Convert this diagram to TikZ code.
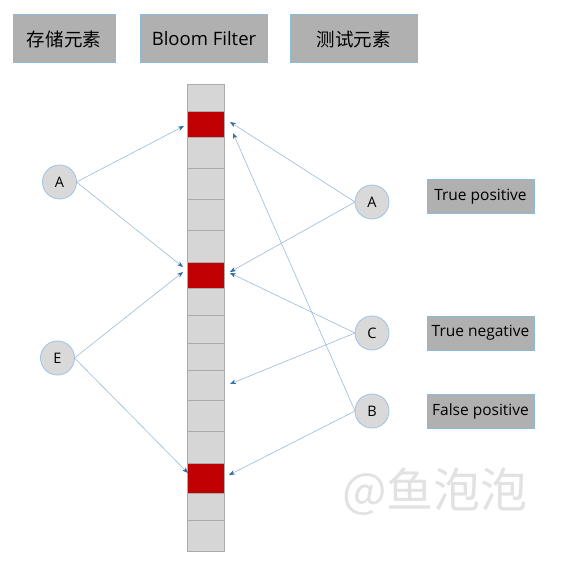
\documentclass[tikz,border=0pt]{standalone}
\usepackage{fontspec}
\setmainfont{Open Sans}
\newfontfamily\cjk{Noto Sans CJK SC}
\usetikzlibrary{arrows.meta}
\definecolor{boxgray}{HTML}{B0B0B0}
\definecolor{boxedge}{HTML}{8CBAD4}
\definecolor{cellgray}{HTML}{D6D6D6}
\definecolor{celledge}{HTML}{ABABAB}
\definecolor{bitred}{HTML}{C00000}
\definecolor{circfill}{HTML}{D9D9D9}
\definecolor{circedge}{HTML}{9DC3E6}
\definecolor{lineblue}{HTML}{9BBAD8}
\definecolor{tipblue}{HTML}{2A6AA8}
\definecolor{wmgray}{HTML}{E2E2E2}
\tikzset{
  hdr/.style={draw=boxedge, fill=boxgray, line width=1pt, minimum height=48pt, inner sep=0pt, outer sep=0pt, font=\fontsize{18.5}{20}\selectfont},
  lbl/.style={draw=boxedge, fill=boxgray, line width=1pt, minimum width=107pt, minimum height=34pt, inner sep=0pt, font=\fontsize{15.5}{17}\selectfont},
  elem/.style={circle, draw=circedge, fill=circfill, line width=0.8pt, minimum size=34pt, inner sep=0pt, outer sep=0pt, font=\fontsize{14.5}{16}\selectfont},
  bitcell/.style={draw=celledge, fill=cellgray, line width=0.8pt, minimum width=37pt, inner sep=0pt, outer sep=0pt},
  bitset/.style={bitcell, fill=bitred},
  link/.style={draw=lineblue, line width=0.6pt, -{Stealth[length=6pt,width=4.5pt,color=tipblue]}}
}
\begin{document}
\begin{tikzpicture}[x=1pt,y=-1pt]
\useasboundingbox (0,0) rectangle (567,561);
% headers
\node[hdr, minimum width=102pt] (h1) at (64,39) {\cjk 存储元素};
\node[hdr, minimum width=127pt] (h2) at (204,39) {Bloom Filter};
\node[hdr, minimum width=127pt] (h3) at (353.5,39) {\cjk 测试元素};
% filter cells
\foreach \i/\t/\b in {1/84/111,2/111/137,3/137/168,4/168/199,5/199/230,6/230/262,7/262/288,8/288/315,9/315/343,10/343/370,11/370/400,12/400/431,13/431/463,14/463/493,15/493/520,16/520/551}{
  \pgfmathsetmacro{\mid}{(\t+\b)/2}
  \pgfmathsetmacro{\hgt}{\b-\t}
  \node[bitcell, minimum height=\hgt pt] (c\i) at (205.5,\mid) {};
}
\foreach \i/\t/\b in {2/111/137,7/262/288,14/463/493}{
  \pgfmathsetmacro{\mid}{(\t+\b)/2}
  \pgfmathsetmacro{\hgt}{\b-\t}
  \node[bitset, minimum height=\hgt pt] (r\i) at (205.5,\mid) {};
}
% elements
\node[elem] (lA) at (59.5,182) {A};
\node[elem] (lE) at (57.5,358) {E};
\node[elem] (rA) at (372,202) {A};
\node[elem] (rC) at (372,333) {C};
\node[elem] (rB) at (372,411) {B};
% labels
\node[lbl] (tp) at (480.5,197) {True positive};
\node[lbl] (tn) at (480.5,333) {True negative};
\node[lbl] (fp) at (480.5,411) {False positive};
% arrow target points
\coordinate (p1) at (184,126);
\coordinate (p2) at (183,267);
\coordinate (p3) at (183,272);
\coordinate (p4) at (188,473);
\coordinate (q1) at (230,122);
\coordinate (q2) at (233,133);
\coordinate (q3) at (230,272);
\coordinate (q4) at (230,273);
\coordinate (q5) at (230,384);
\coordinate (q6) at (229,475);
% connectors
\draw[link] (lA.east) -- (p1);
\draw[link] (lA.east) -- (p2);
\draw[link] (lE.east) -- (p3);
\draw[link] (lE.east) -- (p4);
\draw[link] (rA.west) -- (q1);
\draw[link] (rB.west) -- (q2);
\draw[link] (rA.west) -- (q3);
\draw[link] (rC.west) -- (q4);
\draw[link] (rC.west) -- (q5);
\draw[link] (rB.west) -- (q6);
% watermark
\node[text=wmgray, font=\cjk\fontsize{47}{50}\selectfont, inner sep=0pt] (wm) at (435,492) {@鱼泡泡};
\end{tikzpicture}
\end{document}
